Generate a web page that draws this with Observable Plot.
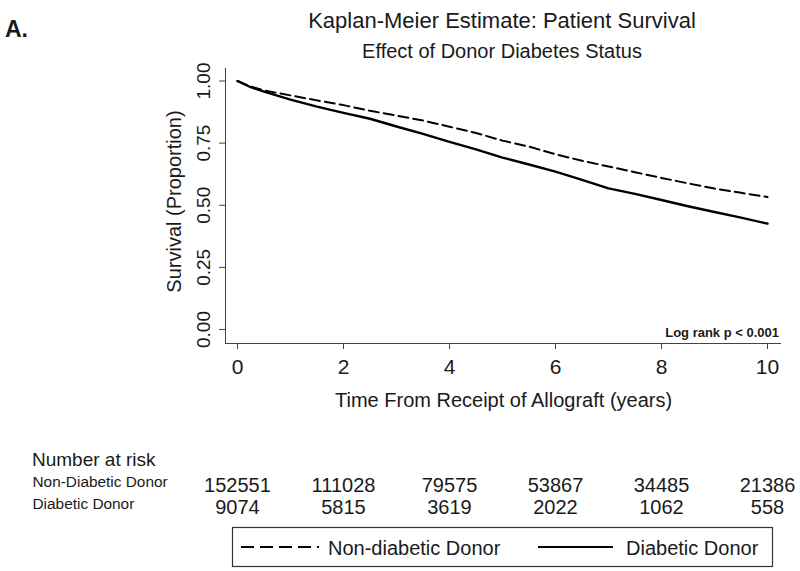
<!DOCTYPE html>
<html><head><meta charset="utf-8">
<script src="https://cdn.jsdelivr.net/npm/d3@7"></script>
<script src="https://cdn.jsdelivr.net/npm/@observablehq/plot@0.6"></script>
<style>
html,body{margin:0;padding:0;background:#fff;}
#wrap{position:relative;width:800px;height:571px;overflow:hidden;background:#fff;font-family:"Liberation Sans",Arial,sans-serif;}
#wrap svg{position:absolute;left:0;}
</style></head><body><div id="wrap"></div>
<script>
// ---- data ----
const times           = [0, 0.25, 0.5, 1, 1.5, 2, 2.5, 3, 3.5, 4, 4.5, 5, 5.5, 6, 6.5, 7, 7.5, 8, 8.5, 9, 9.5, 10];
const nonDiabeticSurv = [1.000, 0.978, 0.962, 0.942, 0.922, 0.903, 0.880, 0.861, 0.841, 0.816, 0.791, 0.760, 0.736, 0.705, 0.679, 0.656, 0.633, 0.610, 0.588, 0.567, 0.550, 0.533];
const diabeticSurv    = [1.000, 0.975, 0.957, 0.925, 0.897, 0.872, 0.848, 0.817, 0.787, 0.755, 0.725, 0.692, 0.664, 0.635, 0.602, 0.568, 0.546, 0.521, 0.496, 0.473, 0.450, 0.426];
const riskTimes       = [0, 2, 4, 6, 8, 10];
const riskNonDiabetic = [152551, 111028, 79575, 53867, 34485, 21386];
const riskDiabetic    = [9074, 5815, 3619, 2022, 1062, 558];
const riskGroups      = ["Non-Diabetic Donor", "Diabetic Donor"];
const xTicks          = [0, 2, 4, 6, 8, 10];
const yTicks          = [0, 0.25, 0.5, 0.75, 1];
const seriesNames     = ["Non-diabetic Donor", "Diabetic Donor"];

const FONT = '"Liberation Sans", Arial, sans-serif';
const INK = "#1a1a1a";
const xDomain = [-0.2264, 10.2453];

const nonDiab = times.map((t, i) => ({t, s: nonDiabeticSurv[i]}));
const diab = times.map((t, i) => ({t, s: diabeticSurv[i]}));

const wrap = document.getElementById("wrap");

const main = Plot.plot({
  width: 800, height: 430,
  marginTop: 68, marginBottom: 87, marginLeft: 225, marginRight: 20,
  style: {fontFamily: FONT, color: INK, background: "white", overflow: "visible"},
  x: {domain: xDomain},
  y: {domain: [-0.0563, 1.0503]},
  marks: [
    Plot.frame({anchor: "left", stroke: "#444"}),
    Plot.frame({anchor: "bottom", stroke: "#444"}),
    Plot.axisX({ticks: xTicks, tickSize: 6, tickPadding: 10, fontSize: 21, label: null, stroke: "#444", tickFormat: d => String(d)}),
    Plot.axisY({ticks: yTicks, tickSize: 6, tickFormat: () => "", label: null, stroke: "#444"}),
    Plot.text(yTicks, {y: d => d, text: d => d3.format(".2f")(d), frameAnchor: "left", textAnchor: "middle", dx: -22, rotate: -90, fontSize: 19, fill: INK}),
    Plot.text(["Survival (Proportion)"], {y: 0.515, frameAnchor: "left", textAnchor: "middle", dx: -51, rotate: -90, fontSize: 20, fill: INK}),
    Plot.text(["Time From Receipt of Allograft (years)"], {x: 5.02, frameAnchor: "bottom", dy: 63, fontSize: 20, fill: INK}),
    Plot.line(nonDiab, {x: "t", y: "s", stroke: "black", strokeWidth: 2, strokeDasharray: "10,5"}),
    Plot.line(diab, {x: "t", y: "s", stroke: "black", strokeWidth: 2.4})
  ]
});
main.style.top = "0px";
wrap.appendChild(main);

const riskRows = riskTimes.flatMap((t, i) => [
  {t, g: riskGroups[0], n: riskNonDiabetic[i]},
  {t, g: riskGroups[1], n: riskDiabetic[i]}
]);
const risk = Plot.plot({
  width: 800, height: 90,
  marginTop: 0, marginBottom: 0, marginLeft: 225, marginRight: 20,
  style: {fontFamily: FONT, color: INK, background: "transparent", overflow: "visible"},
  x: {domain: xDomain, axis: null},
  y: {type: "point", domain: riskGroups, range: [45, 67], padding: 0, axis: null},
  marks: [
    Plot.text(riskRows, {x: "t", y: "g", text: d => String(d.n), fontSize: 20, fill: INK}),
    Plot.text(riskGroups, {y: d => d, text: d => d, frameAnchor: "left", dx: -193, dy: -3, textAnchor: "start", fontSize: 15.4, fill: INK})
  ]
});
risk.style.top = "440px";
wrap.appendChild(risk);

// ---- static annotations: titles, panel letter, test note, legend ----
const ov = d3.select(wrap).append("svg")
  .attr("width", 800).attr("height", 571)
  .style("top", "0px").style("pointer-events", "none")
  .style("font-family", FONT).attr("fill", INK);
ov.append("text").attr("x", 502).attr("y", 28).attr("text-anchor", "middle").attr("font-size", 22).text("Kaplan-Meier Estimate: Patient Survival");
ov.append("text").attr("x", 502).attr("y", 58).attr("text-anchor", "middle").attr("font-size", 20).text("Effect of Donor Diabetes Status");
ov.append("text").attr("x", 5).attr("y", 37).attr("font-size", 23).attr("font-weight", "bold").text("A.");
ov.append("text").attr("x", 779).attr("y", 337).attr("text-anchor", "end").attr("font-size", 13).attr("font-weight", "bold").text("Log rank p < 0.001");
ov.append("text").attr("x", 32).attr("y", 466).attr("font-size", 19).text("Number at risk");

const lg = ov.append("g");
lg.append("rect").attr("x", 232.5).attr("y", 527.5).attr("width", 540).attr("height", 39).attr("fill", "none").attr("stroke", "#333").attr("stroke-width", 1.2);
lg.append("line").attr("x1", 241).attr("x2", 319).attr("y1", 547).attr("y2", 547).attr("stroke", "black").attr("stroke-width", 2).attr("stroke-dasharray", "13,6");
lg.append("text").attr("x", 328).attr("y", 555).attr("font-size", 20).text(seriesNames[0]);
lg.append("line").attr("x1", 538).attr("x2", 613).attr("y1", 547).attr("y2", 547).attr("stroke", "black").attr("stroke-width", 2);
lg.append("text").attr("x", 626).attr("y", 555).attr("font-size", 20).text(seriesNames[1]);
</script>
</body></html>
